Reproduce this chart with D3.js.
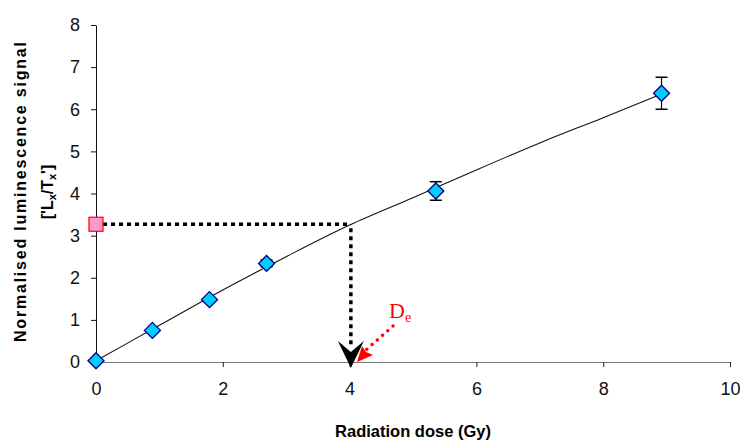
<!DOCTYPE html>
<html>
<head>
<meta charset="utf-8">
<script src="https://cdn.jsdelivr.net/npm/d3@7"></script>
<style>
  body { margin: 0; background: #fff; }
  text { font-family: Arial, "Liberation Sans", sans-serif; }
</style>
</head>
<body>
<div id="chart"></div>
<script>
// regenerated dose points (Gy) and normalised signal
var doses = [0, 0.89, 1.79, 2.69, 5.36, 8.92];
var signal = [0.03, 0.75, 1.48, 2.34, 4.06, 6.38];
var errors = [0.01, 0.03, 0.04, 0.08, 0.22, 0.38];

// fitted growth curve
var fitDose = [0, 1, 2, 3, 4, 5, 6, 7, 8, 8.92];
var fitSignal = [0.03, 0.87, 1.71, 2.5, 3.25, 3.9, 4.56, 5.2, 5.8, 6.36];

// natural signal and equivalent dose
var naturalSignal = [3.27];
var equivDose = [4.02];

var xTicks = [0, 2, 4, 6, 8, 10];
var yTicks = [0, 1, 2, 3, 4, 5, 6, 7, 8];

var WIDTH = 744, HEIGHT = 440;
var margin = {left: 96, right: 14, top: 25, bottom: 78};

var svg = d3.select("#chart").append("svg")
    .attr("width", WIDTH)
    .attr("height", HEIGHT);

var x = d3.scaleLinear().domain([0, 10]).range([margin.left, WIDTH - margin.right]);
var y = d3.scaleLinear().domain([0, 8]).range([HEIGHT - margin.bottom, margin.top]);

/* ---------- axes ---------- */
var xAxis = svg.append("g")
    .attr("transform", "translate(0," + y(0) + ")")
    .call(d3.axisBottom(x).tickValues(xTicks).tickSize(5).tickPadding(15).tickSizeOuter(0));
xAxis.select(".domain").attr("stroke", "#777");
xAxis.selectAll(".tick line").attr("stroke", "#222");
xAxis.selectAll("text").attr("font-size", 18).attr("fill", "#111");

var yAxis = svg.append("g")
    .attr("transform", "translate(" + x(0) + ",0)")
    .call(d3.axisLeft(y).tickValues(yTicks).tickSize(5).tickPadding(11).tickSizeOuter(0));
yAxis.select(".domain").attr("stroke", "#111");
yAxis.selectAll(".tick line").attr("stroke", "#111");
yAxis.selectAll("text").attr("font-size", 18).attr("fill", "#111");

/* ---------- axis titles ---------- */
svg.append("text")
    .attr("x", 413).attr("y", 437)
    .attr("text-anchor", "middle")
    .attr("font-size", 16.5).attr("font-weight", "bold")
    .text("Radiation dose (Gy)");

var yl = svg.append("g").attr("transform", "translate(26,192) rotate(-90)");
yl.append("text")
    .attr("x", 0).attr("y", 0)
    .attr("text-anchor", "middle")
    .attr("font-size", 16).attr("font-weight", "bold")
    .attr("textLength", 300).attr("lengthAdjust", "spacing")
    .text("Normalised luminescence signal");
var l2 = yl.append("text")
    .attr("x", 0).attr("y", 27)
    .attr("text-anchor", "middle")
    .attr("font-size", 16).attr("font-weight", "bold");
l2.append("tspan").text("['L");
l2.append("tspan").attr("font-size", 11).attr("dy", 3).text("x");
l2.append("tspan").attr("dy", -3).text("/T");
l2.append("tspan").attr("font-size", 11).attr("dy", 3).text("x");
l2.append("tspan").attr("dy", -3).text("']");

/* ---------- fitted curve ---------- */
var fit = fitDose.map(function(d, i){ return [d, fitSignal[i]]; });
svg.append("path")
    .datum(fit)
    .attr("fill", "none")
    .attr("stroke", "#111")
    .attr("stroke-width", 1.1)
    .attr("d", d3.line()
        .x(function(d){ return x(d[0]); })
        .y(function(d){ return y(d[1]); })
        .curve(d3.curveMonotoneX));

/* ---------- De construction ---------- */
svg.append("line")
    .attr("x1", x(0) + 7).attr("y1", y(naturalSignal[0]))
    .attr("x2", x(equivDose[0])).attr("y2", y(naturalSignal[0]))
    .attr("stroke", "#000").attr("stroke-width", 3.5)
    .attr("stroke-dasharray", "4,4");
svg.append("line")
    .attr("x1", x(equivDose[0])).attr("y1", y(naturalSignal[0]) + 4)
    .attr("x2", x(equivDose[0])).attr("y2", y(0) - 16)
    .attr("stroke", "#000").attr("stroke-width", 3.5)
    .attr("stroke-dasharray", "4,4");

// black barbed arrow head
var ax = x(equivDose[0]), ay = y(0) + 6;
svg.append("path")
    .attr("d", "M" + ax + "," + ay +
        "L" + (ax - 13) + "," + (ay - 27) +
        "L" + ax + "," + (ay - 16) +
        "L" + (ax + 13) + "," + (ay - 27) + "Z")
    .attr("fill", "#000");

// De label with red dotted pointer
svg.append("line")
    .attr("x1", 393).attr("y1", 326)
    .attr("x2", 366).attr("y2", 350)
    .attr("stroke", "red").attr("stroke-width", 3.5)
    .attr("stroke-linecap", "round")
    .attr("stroke-dasharray", "0,7");
svg.append("path")
    .attr("d", "M357,362 L362,346 L366,352 L373,355 Z")
    .attr("fill", "red");
var de = svg.append("text")
    .attr("x", 389).attr("y", 318)
    .attr("fill", "red")
    .style("font-family", "'Liberation Serif', 'DejaVu Serif', serif")
    .attr("font-size", 22);
de.append("tspan").text("D");
de.append("tspan").attr("font-size", 14).attr("dy", 4).text("e");

/* ---------- natural signal marker ---------- */
svg.append("rect")
    .attr("x", x(0) - 7).attr("y", y(naturalSignal[0]) - 7)
    .attr("width", 14).attr("height", 14)
    .attr("fill", "#ff99cc").attr("stroke", "#ff0000").attr("stroke-width", 1.2);

/* ---------- error bars + points ---------- */
var pts = doses.map(function(d, i){ return {d: d, s: signal[i], e: errors[i]}; });

var eb = svg.selectAll(".err").data(pts).enter().append("g").attr("class", "err");
eb.append("line")
    .attr("x1", function(p){ return x(p.d); }).attr("x2", function(p){ return x(p.d); })
    .attr("y1", function(p){ return y(p.s - p.e); }).attr("y2", function(p){ return y(p.s + p.e); })
    .attr("stroke", "#000").attr("stroke-width", 1.2);
eb.append("line")
    .attr("x1", function(p){ return x(p.d) - 6; }).attr("x2", function(p){ return x(p.d) + 6; })
    .attr("y1", function(p){ return y(p.s + p.e); }).attr("y2", function(p){ return y(p.s + p.e); })
    .attr("stroke", "#000").attr("stroke-width", 1.5);
eb.append("line")
    .attr("x1", function(p){ return x(p.d) - 6; }).attr("x2", function(p){ return x(p.d) + 6; })
    .attr("y1", function(p){ return y(p.s - p.e); }).attr("y2", function(p){ return y(p.s - p.e); })
    .attr("stroke", "#000").attr("stroke-width", 1.5);

svg.selectAll(".pt").data(pts).enter().append("path")
    .attr("class", "pt")
    .attr("transform", function(p){ return "translate(" + x(p.d) + "," + y(p.s) + ")"; })
    .attr("d", "M0,-8 L8,0 L0,8 L-8,0 Z")
    .attr("fill", "#00ccff")
    .attr("stroke", "#000080")
    .attr("stroke-width", 1.3);
</script>
</body>
</html>
